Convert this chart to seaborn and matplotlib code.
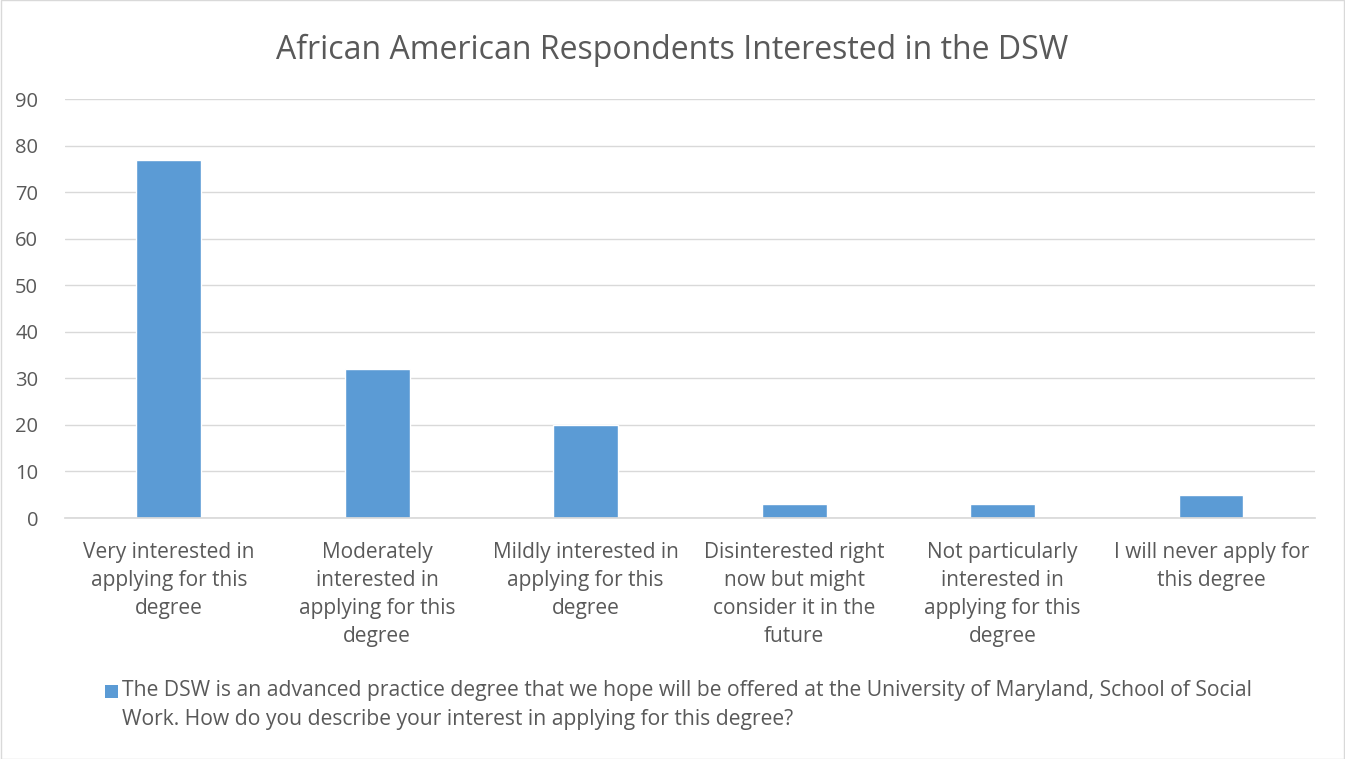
import matplotlib
matplotlib.use("Agg")
import matplotlib.pyplot as plt
import seaborn as sns
import pandas as pd
from matplotlib.patches import Rectangle

categories = [
    "Very interested in\napplying for this\ndegree",
    "Moderately\ninterested in\napplying for this\ndegree",
    "Mildly interested in\napplying for this\ndegree",
    "Disinterested right\nnow but might\nconsider it in the\nfuture",
    "Not particularly\ninterested in\napplying for this\ndegree",
    "I will never apply for\nthis degree",
]
values = [77, 32, 20, 3, 3, 5]
series_name = ("The DSW is an advanced practice degree that we hope will be offered at the University of Maryland, School of Social\n"
               "Work. How do you describe your interest in applying for this degree?")
title = "African American Respondents Interested in the DSW"

sns.set_theme(style="white")
plt.rcParams['font.family'] = ['Open Sans', 'DejaVu Sans']

text_color = "#595959"
bar_color = "#5B9BD5"

df = pd.DataFrame({"cat": categories, "val": values})

fig = plt.figure(figsize=(13.45, 7.59), dpi=100)
ax = fig.add_axes([0.048, 0.3175, 0.930, 0.552])
sns.barplot(data=df, x="cat", y="val", color=bar_color, width=0.31, ax=ax, saturation=1)

ax.set_ylim(0, 90)
ax.set_yticks(range(0, 91, 10))
ax.set_xlim(-0.5, 5.5)
ax.yaxis.grid(True, color="#D9D9D9", linewidth=1)
ax.set_axisbelow(True)
for s in ["top", "right", "left"]:
    ax.spines[s].set_visible(False)
ax.spines["bottom"].set_color("#D9D9D9")
ax.set_xlabel("")
ax.set_ylabel("")
ax.tick_params(axis="y", labelsize=14.5, colors=text_color, length=0, pad=19)
ax.tick_params(axis="x", labelsize=15, colors=text_color, length=0, pad=17)
for t in ax.get_xticklabels():
    t.set_linespacing(1.45)

fig.suptitle(title, fontsize=23, color=text_color, y=0.955)

# legend (series marker aligned with first text line, as in the reference)
fig.patches.append(Rectangle((105 / 1345, 1 - 698 / 759), 13 / 1345, 13 / 759,
                             transform=fig.transFigure, facecolor=bar_color, edgecolor="none"))
fig.text(122 / 1345, 1 - 680 / 759, series_name, fontsize=15.2, color=text_color,
         ha="left", va="top", linespacing=1.48)

fig.patches.append(Rectangle((0.0005, 0.0005), 0.999, 0.999, transform=fig.transFigure,
                             fill=False, edgecolor="#D9D9D9", linewidth=1))

fig.savefig("out.png", dpi=100)
